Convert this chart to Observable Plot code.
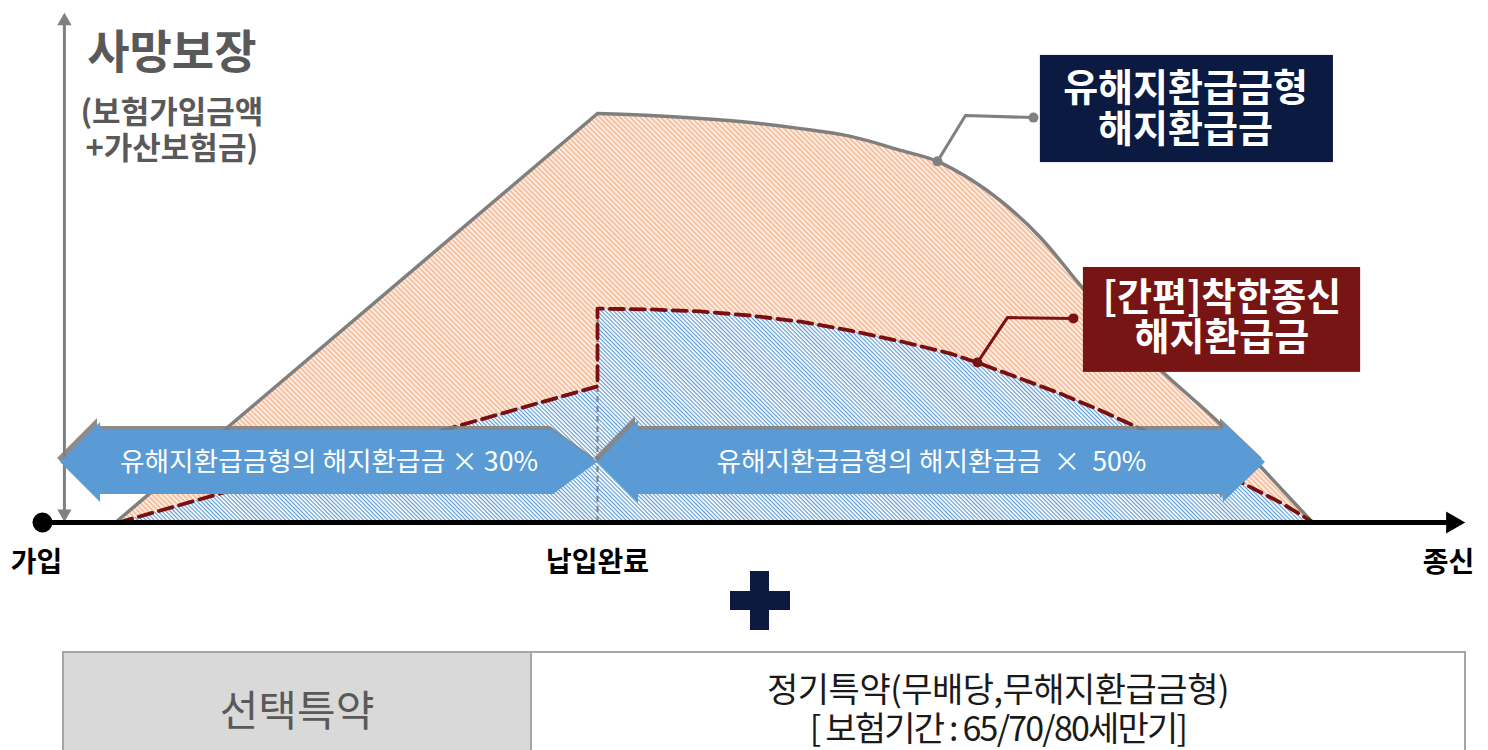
<!DOCTYPE html>
<html>
<head>
<meta charset="utf-8">
<script src="https://cdn.jsdelivr.net/npm/d3@7"></script>
<script src="https://cdn.jsdelivr.net/npm/@observablehq/plot@0.6"></script>
<style>
  html, body { margin: 0; padding: 0; background: #fff; }
  body { width: 1488px; height: 750px; position: relative; overflow: hidden; font-family: "Noto Sans CJK KR", "Noto Sans", sans-serif; }
  #chart { position: absolute; left: 0; top: 0; }
  .plus { position: absolute; background: #0b1a3e; }
  #rider { position: absolute; left: 62px; top: 651px; width: 1404px; border-collapse: collapse; }
  #rider td { border: 2px solid #a6a6a6; height: 108px; text-align: center; vertical-align: middle; padding: 0; }
  #rider td.k { width: 466px; background: #d9d9d9; color: #595959; font-size: 42px; }
  #rider td.v { background: #fff; color: #1a1a1a; font-size: 34px; line-height: 39px; }
  #rider td.v div:nth-child(1) { letter-spacing: -0.5px; }
  #rider td.v div:nth-child(2) { letter-spacing: -1.8px; }
</style>
</head>
<body>
<div id="chart"></div>
<div class="plus" style="left:750px;top:571px;width:19px;height:59px;"></div>
<div class="plus" style="left:730px;top:591px;width:60px;height:19px;"></div>
<table id="rider"><tr><td class="k"></td><td class="v"></td></tr></table>
<script>
// ---------- data (x: policy time, 가입 = 0, 납입완료 = 20; y: % of death-benefit peak) ----------
const stageT      = [-0.22, 20, 50.67];
const stageLabels = ["가입", "납입완료", "종신"];

// 유해지환급금형 해지환급금 (gray solid line)
const refundT = [2.63, 20.00, 21.91, 23.71, 25.51, 27.32, 29.12, 30.92, 32.25, 33.44, 34.52, 35.96, 37.41, 38.85, 40.54, 42.45, 43.89, 45.77];
const refundV = [0, 100, 99.5, 98.8, 97.8, 96.3, 94.4, 91.0, 88.3, 83.9, 78.7, 69.7, 57.9, 46.5, 35.7, 24.0, 13.7, 0];

// [간편]착한종신 해지환급금 (dark red dashed line)
const simpleT = [2.74, 20.00, 20.00, 21.91, 23.71, 25.51, 27.32, 29.12, 30.92, 32.72, 33.69, 35.24, 36.68, 38.13, 39.93, 41.73, 43.28, 44.61, 45.80];
const simpleV = [0, 33.3, 52.3, 52.1, 51.6, 50.6, 49.1, 46.9, 44.3, 41.3, 39.1, 35.2, 31.5, 27.4, 21.8, 15.4, 9.5, 4.9, 0];

// block arrows (periods)
const arrowFrom   = [0.65, 20];
const arrowTo     = [20, 44.07];
const arrowMid    = [14.7, 14.7];
const arrowLabels = ["유해지환급금형의 해지환급금 × 30%", "유해지환급금형의 해지환급금  ×  50%"];

// callouts
const calloutLabels = ["유해지환급금형\n해지환급금", "[간편]착한종신\n해지환급금"];
const calloutX1 = [35.96, 37.51], calloutX2 = [46.52, 47.50];
const calloutY1 = [88.0, 36.7],  calloutY2 = [114.2, 62.35];
const calloutTX = [41.19, 42.50], calloutTY = [101.2, 50.2];
const calloutFill = ["#0b1a40", "#771515"];
const leaderColor = ["#808080", "#7a1212"];
const leaderT = [[35.71, 33.26, 32.25], [37.15, 34.77, 33.69]];
const leaderV = [[99.0, 99.5, 88.3], [49.9, 50.1, 39.1]];

// y-axis title
const titleLines = ["사망보장", "(보험가입금액", "+가산보험금)"];
const titleV     = [114.7, 100.0, 91.4];
const titleSize  = [46, 31, 31];

// rider table
const riderName  = "선택특약";
const riderLines = ["정기특약(무배당,무해지환급금형)", "[ 보험기간 : 65/70/80세만기]"];

// ---------- build ----------
const refund = refundT.map((t, i) => ({t, v: refundV[i]}));
const refundRise = refund.slice(0, 2), refundFall = refund.slice(1);
const simple = simpleT.map((t, i) => ({t, v: simpleV[i]}));
const arrows = arrowFrom.map((f, i) => ({from: f, to: arrowTo[i], mid: arrowMid[i], label: arrowLabels[i], i}));
const callouts = calloutLabels.map((label, i) => ({label, x1: calloutX1[i], x2: calloutX2[i], y1: calloutY1[i], y2: calloutY2[i], tx: calloutTX[i], ty: calloutTY[i], fill: calloutFill[i]}));
const leaders = leaderT.flatMap((ts, k) => ts.map((t, j) => ({t, v: leaderV[k][j], k, end: j === 0 || j === ts.length - 1})));
const stages = stageT.map((t, i) => ({t, label: stageLabels[i]}));
const titles = titleLines.map((label, i) => ({label, v: titleV[i], size: titleSize[i]}));

const FONT = "Noto Sans CJK KR";

function patterns() {
  const defs = d3.create("svg:defs");
  const po = defs.append("pattern").attr("id", "hatchO").attr("patternUnits", "userSpaceOnUse")
    .attr("width", 10).attr("height", 3.6).attr("patternTransform", "rotate(45)");
  po.append("rect").attr("width", 10).attr("height", 3.6).attr("fill", "#fdf1ea");
  po.append("rect").attr("width", 10).attr("height", 1.9).attr("fill", "#f7bf9c");
  const pb = defs.append("pattern").attr("id", "hatchB").attr("patternUnits", "userSpaceOnUse")
    .attr("width", 10).attr("height", 2.9).attr("patternTransform", "rotate(45)");
  pb.append("rect").attr("width", 10).attr("height", 2.9).attr("fill", "#ffffff");
  pb.append("rect").attr("width", 10).attr("height", 1.15).attr("fill", "#5d9ad6");
  return defs.node();
}

function blockArrows(index, scales) {
  const g = d3.create("svg:g");
  const headH = 40, bodyH = 32;
  for (const a of arrows) {
    const x0 = scales.x(a.from), x1 = scales.x(a.to), yc = scales.y(a.mid);
    let pts;
    if (a.i === 0) {
      const hb = x0 + 40, tb = x1 - 44;
      pts = [[x0, yc], [hb, yc - headH], [hb, yc - bodyH], [tb, yc - bodyH], [x1, yc],
             [tb, yc + bodyH], [hb, yc + bodyH], [hb, yc + headH]];
    } else {
      const hb = x0 + 41, tb = x1 - 42;
      pts = [[x0, yc], [hb, yc - headH - 2], [hb, yc - bodyH], [tb, yc - bodyH], [tb, yc - headH],
             [x1, yc], [tb, yc + headH], [tb, yc + bodyH], [hb, yc + bodyH], [hb, yc + headH + 1]];
    }
    g.append("polygon").attr("points", pts.map(([x, y]) => [x - 3, y - 4]).join(" "))
      .attr("fill", "#7f7f7f").attr("fill-opacity", 0.9);
    g.append("polygon").attr("points", pts.join(" ")).attr("fill", "#5b9bd5");
  }
  return g.node();
}

const chart = Plot.plot({
  width: 1488,
  height: 645,
  margin: 0,
  x: {type: "linear", domain: [0, 20], range: [42, 597], axis: null},
  y: {type: "linear", domain: [0, 100], range: [522, 113], axis: null},
  style: {fontFamily: FONT, background: "white", overflow: "visible"},
  marks: [
    patterns,
    Plot.areaY(refund, {x: "t", y1: 0, y2: "v", fill: "url(#hatchO)"}),
    Plot.areaY(simple, {x: "t", y1: 0, y2: "v", fill: "url(#hatchB)"}),
    Plot.ruleX([20], {y1: 0, y2: 52.3, stroke: "#7f7f7f", strokeWidth: 2, strokeDasharray: "6,4"}),
    Plot.line(refundRise, {x: "t", y: "v", stroke: "#7f7f7f", strokeWidth: 3.5, strokeLinecap: "round"}),
    Plot.line(refundFall, {x: "t", y: "v", stroke: "#7f7f7f", strokeWidth: 3.5, strokeLinecap: "round", curve: "monotone-x"}),
    Plot.line(simple, {x: "t", y: "v", stroke: "#7a0f0f", strokeWidth: 3.8, strokeDasharray: "14,7"}),
    // y axis (gray double arrow)
    Plot.ruleX([0.79], {y1: 1, y2: 122, stroke: "#808080", strokeWidth: 3}),
    Plot.dot([{t: 0.79, v: 122.6, r: 0}, {t: 0.79, v: 2.2, r: 180}], {x: "t", y: "v", symbol: "triangle", r: 5.3, rotate: "r", fill: "#808080", stroke: null}),
    blockArrows,
    Plot.text(arrows, {x: d => (d.from + d.to) / 2, y: "mid", text: "label", fill: "white", fontSize: 26.7, fontFamily: FONT}),
    // x axis (black)
    Plot.ruleY([0], {x1: 0, x2: 50.8, stroke: "black", strokeWidth: 5}),
    Plot.dot([{t: 0, v: 0}], {x: "t", y: "v", r: 10, fill: "black", stroke: null}),
    Plot.dot([{t: 50.81, v: 0}], {x: "t", y: "v", symbol: "triangle", r: 8.2, rotate: 90, fill: "black", stroke: null}),
    Plot.text(stages, {x: "t", y: -10, text: "label", fill: "black", fontSize: 28, fontWeight: "bold", fontFamily: FONT}),
    // y title
    Plot.text(titles, {x: 4.66, y: "v", text: "label", fontSize: "size", fill: "#595959", fontWeight: "bold", fontFamily: FONT}),
    // callouts
    Plot.line(leaders, {x: "t", y: "v", z: "k", stroke: d => leaderColor[d.k], strokeWidth: 3}),
    Plot.dot(leaders.filter(d => d.end), {x: "t", y: "v", r: 5, fill: d => leaderColor[d.k], stroke: null}),
    Plot.rect(callouts, {x1: "x1", x2: "x2", y1: "y1", y2: "y2", fill: "fill"}),
    Plot.text(callouts, {x: "tx", y: "ty", text: "label", fill: "white", fontSize: 38, fontWeight: "bold", lineHeight: 1.06, fontFamily: FONT})
  ]
});
document.getElementById("chart").append(chart);

document.querySelector("#rider td.k").textContent = riderName;
const cell = document.querySelector("#rider td.v");
riderLines.forEach(line => { const d = document.createElement("div"); d.textContent = line; cell.append(d); });
</script>
</body>
</html>
